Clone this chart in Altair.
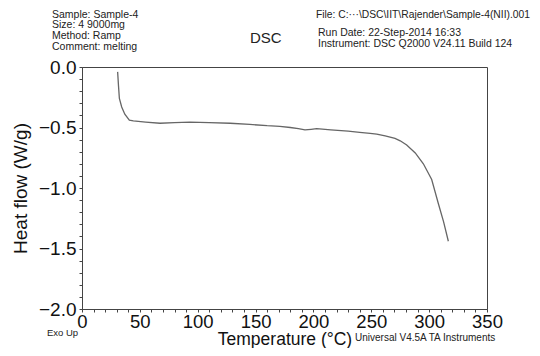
import altair as alt
import pandas as pd

# Curve
temperature = [30.8, 31.5, 32.3, 34.3, 37.0, 40.9, 44.4, 55.0, 67.4, 80.0, 93.3, 110.0, 128.0,
               145.0, 160.0, 171.0, 180.0, 187.0, 192.7, 198.0, 202.8, 215.0, 230.0, 240.0,
               249.0, 254.7, 262.0, 270.5, 275.0, 280.6, 288.0, 295.0, 302.2, 308.0, 312.5, 316.6]
heat_flow = [-0.04, -0.15, -0.26, -0.33, -0.39, -0.44, -0.445, -0.455, -0.465, -0.46, -0.455, -0.46, -0.465,
             -0.475, -0.485, -0.49, -0.50, -0.51, -0.52, -0.515, -0.51, -0.52, -0.53, -0.54,
             -0.548, -0.555, -0.57, -0.59, -0.61, -0.645, -0.71, -0.80, -0.93, -1.13, -1.28, -1.44]

x_ticks = list(range(0, 351, 10))
y_ticks = [round(-2.0 + 0.1 * i, 1) for i in range(21)]

header_left = ["Sample: Sample-4", "Size: 4 9000mg", "Method: Ramp", "Comment: melting"]
header_file = "File: C:\u00b7\u00b7\u00b7\\DSC\\IIT\\Rajender\\Sample-4(NII).001"
header_right = ["Run Date: 22-Step-2014 16:33", "Instrument: DSC Q2000 V24.11 Build 124"]

FONT = "Liberation Sans"
df = pd.DataFrame({"t": temperature, "hf": heat_flow})

line = alt.Chart(df).mark_line(color="#666666", strokeWidth=1.3).encode(
    x=alt.X("t:Q", scale=alt.Scale(domain=[0, 350], nice=False),
            axis=alt.Axis(title="Temperature (\u00b0C)", values=x_ticks,
                          labelExpr="datum.value % 50 == 0 ? datum.label : ''",
                          format="d", grid=False, domainColor="#444", tickColor="#444",
                          tickSize=3, labelFontSize=18.5, labelColor="#111", labelPadding=0,
                          labelFlush=False, labelOverlap=False,
                          titleFontSize=17.5, titleFontWeight="normal", titleColor="#111",
                          titlePadding=0, labelFont=FONT, titleFont=FONT)),
    y=alt.Y("hf:Q", scale=alt.Scale(domain=[-2.0, 0.0], nice=False),
            axis=alt.Axis(title="Heat flow (W/g)", values=y_ticks,
                          labelExpr="abs(datum.value*2 - round(datum.value*2)) < 0.001 ? format(datum.value, '.1f') : ''",
                          grid=False, domainColor="#444", tickColor="#444",
                          tickSize=3, labelFontSize=19, labelColor="#111", labelPadding=3,
                          labelFlush=False, labelOverlap=False,
                          titleFontSize=19, titleFontWeight="normal", titleColor="#111",
                          titlePadding=8, labelFont=FONT, titleFont=FONT)),
)


def note(s, x, y, size):
    return alt.Chart(pd.DataFrame({"s": [s]})).mark_text(
        align="left", baseline="middle", font=FONT, fontSize=size, color="#222").encode(
        text="s:N", x=alt.value(x), y=alt.value(y))


layers = [line]
for i, s in enumerate(header_left):
    layers.append(note(s, -30, -52.5 + 10.7 * i, 10.5))
layers.append(note(header_file, 234, -52, 10.3))
for i, s in enumerate(header_right):
    layers.append(note(s, 236, -34 + 10.5 * i, 10.5))
layers.append(note("DSC", 168, -29, 15))
layers.append(note("Exo Up", -35, 266, 9.5))
layers.append(note("Universal V4.5A TA Instruments", 273, 271, 10))

chart = alt.layer(*layers).properties(
    width=405, height=242,
    autosize=alt.AutoSizeParams(type="none"),
    padding={"left": 74, "top": 59, "right": 45, "bottom": 39},
    background="white",
).configure_view(stroke="#444", strokeWidth=1)

chart.save("out.html", embed_options={"renderer": "svg", "actions": False})
